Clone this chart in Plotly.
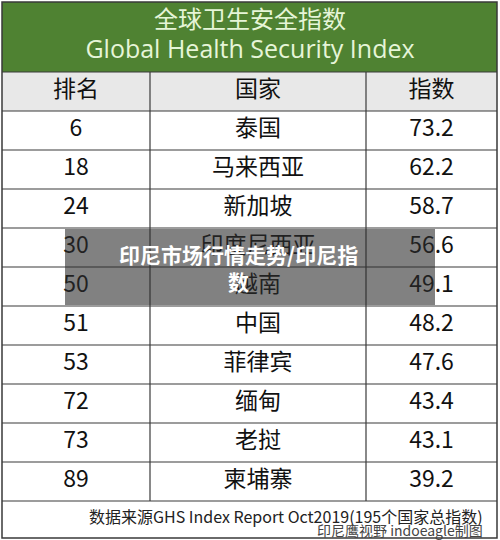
import plotly.graph_objects as go

title_cn = "全球卫生安全指数"
title_en = "Global Health Security Index"
headers = ["排名", "国家", "指数"]
ranks = ["6", "18", "24", "30", "50", "51", "53", "72", "73", "89"]
countries = ["泰国", "马来西亚", "新加坡", "印度尼西亚", "越南", "中国", "菲律宾", "缅甸", "老挝", "柬埔寨"]
scores = ["73.2", "62.2", "58.7", "56.6", "49.1", "48.2", "47.6", "43.4", "43.1", "39.2"]
source = "数据来源GHS Index Report Oct2019(195个国家总指数)"
credit = "印尼鹰视野 indoeagle制图"
overlay = "<b>印尼市场行情走势/印尼指<br>数</b>"

FONT = "Noto Sans CJK SC"
X0, X1 = 2, 497
cols = [2, 150, 366, 497]
col_centers = [(cols[i] + cols[i+1]) / 2 for i in range(3)]
green_top, green_bot = 2, 72
head_bot = 111
row_h = 39
n = len(ranks)
table_bot = head_bot + row_h * n
foot_bot = 538
line_c = "#3a3a3a"

fig = go.Figure()
shapes = []
shapes.append(dict(type="rect", x0=X0, x1=X1, y0=green_top, y1=green_bot, fillcolor="#4f8232", line=dict(width=0), layer="below"))
shapes.append(dict(type="rect", x0=X0, x1=X1, y0=green_bot, y1=head_bot, fillcolor="#e8e8e8", line=dict(width=0), layer="below"))
shapes.append(dict(type="rect", x0=X0, x1=X1, y0=green_top, y1=foot_bot, line=dict(color=line_c, width=1.5)))
for k in range(n + 2):
    y = green_bot + (0 if k == 0 else (head_bot - green_bot) + row_h * (k - 1))
    shapes.append(dict(type="line", x0=X0, x1=X1, y0=y, y1=y, line=dict(color=line_c, width=1.2)))
for c in cols[1:3]:
    shapes.append(dict(type="line", x0=c, x1=c, y0=green_bot, y1=table_bot, line=dict(color=line_c, width=1.2)))
shapes.append(dict(type="rect", x0=65, x1=435, y0=229, y1=305, fillcolor="rgba(45,45,45,0.6)", line=dict(width=0)))
fig.update_layout(shapes=shapes)

ys_rows = [head_bot + row_h * (i + 0.5) for i in range(n)]
for ci, vals in enumerate([ranks, countries, scores]):
    fig.add_trace(go.Scatter(x=[col_centers[ci]] * n, y=ys_rows, mode="text", text=vals,
                             textfont=dict(family=FONT, size=23, color="#111")))
fig.add_trace(go.Scatter(x=col_centers, y=[(green_bot + head_bot) / 2] * 3, mode="text", text=headers,
                         textfont=dict(family=FONT, size=23, color="#111")))
fig.add_trace(go.Scatter(x=[250], y=[22], mode="text", text=[title_cn],
                         textfont=dict(family=FONT, size=24, color="#e6f5d8")))
fig.add_trace(go.Scatter(x=[250], y=[52], mode="text", text=[title_en],
                         textfont=dict(family="Open Sans", size=25, color="#e6f5d8")))

anns = [
    dict(x=485, y=516, text=source, xanchor="right", showarrow=False,
         font=dict(family=FONT, size=16, color="#222")),
    dict(x=485, y=530, text=credit, xanchor="right", showarrow=False,
         font=dict(family=FONT, size=14, color="#444")),
    dict(x=238, y=267, text=overlay, showarrow=False, align="center",
         font=dict(family=FONT, size=21, color="white")),
]
fig.update_layout(annotations=anns)

fig.update_layout(width=500, height=540, margin=dict(l=0, r=0, t=0, b=0),
                  paper_bgcolor="white", plot_bgcolor="white", showlegend=False,
                  xaxis=dict(range=[0, 500], visible=False, fixedrange=True),
                  yaxis=dict(range=[540, 0], visible=False, fixedrange=True))
fig.write_html("out.html", config={"displayModeBar": False},
               post_script="document.body.style.margin='0';document.body.style.overflow='hidden';")
